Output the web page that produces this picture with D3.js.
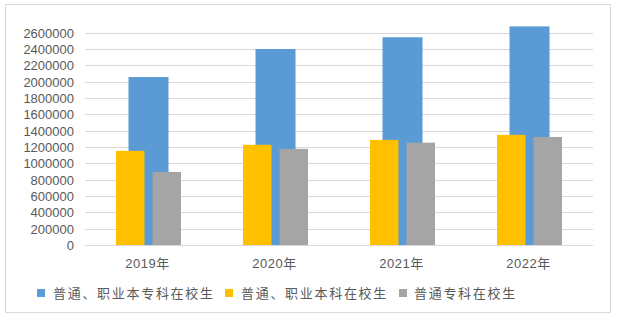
<!DOCTYPE html>
<html>
<head>
<meta charset="utf-8">
<script src="https://cdn.jsdelivr.net/npm/d3@7"></script>
<style>
  html, body { margin: 0; padding: 0; background: #fff; }
  svg { display: block; }
  text { font-family: "Liberation Sans", "Noto Sans CJK SC", sans-serif; fill: #595959; }
</style>
</head>
<body>
<svg id="chart" width="617" height="326"></svg>
<script>
// 在校生人数（人）
const years = ["2019年", "2020年", "2021年", "2022年"];
const totalStudents = [2055000, 2398000, 2542000, 2675000];     // 普通、职业本专科在校生
const undergradStudents = [1152000, 1226000, 1286000, 1348000]; // 普通、职业本科在校生
const juniorStudents = [894000, 1176000, 1252000, 1322000];     // 普通专科在校生
const yTicks = d3.range(0, 2600001, 200000);

const seriesNames = ["普通、职业本专科在校生", "普通、职业本科在校生", "普通专科在校生"];
const colors = ["#5B9BD5", "#FFC000", "#A5A5A5"];

const svg = d3.select("#chart");
const W = 617, H = 326;
const plot = { left: 85, right: 593, top: 32.5, bottom: 245 };

// chart frame
svg.append("rect")
  .attr("x", 5.5).attr("y", 4.5)
  .attr("width", 605).attr("height", 308)
  .attr("fill", "#fff").attr("stroke", "#D9D9D9").attr("stroke-width", 1);

const x = d3.scaleBand().domain(years).range([plot.left, plot.right]).paddingInner(0).paddingOuter(0);
const y = d3.scaleLinear().domain([0, 2600000]).range([plot.bottom, plot.top]);

// horizontal gridlines
svg.append("g")
  .selectAll("line")
  .data(yTicks)
  .join("line")
  .attr("x1", plot.left).attr("x2", plot.right)
  .attr("y1", d => Math.round(y(d)) + 0.5).attr("y2", d => Math.round(y(d)) + 0.5)
  .attr("stroke", "#D9D9D9").attr("stroke-width", 1);

// y axis labels
const yAxis = d3.axisLeft(y).tickValues(yTicks).tickFormat(d3.format("d")).tickSize(0).tickPadding(0);
const gy = svg.append("g").attr("transform", `translate(${plot.left - 11},0)`).call(yAxis);
gy.select(".domain").remove();
gy.selectAll("text")
  .attr("font-size", 13)
  .attr("font-family", "Liberation Sans, sans-serif")
  .attr("fill", "#595959")
  .attr("dy", "0.36em");

// back bar: total enrollment, wide and centered in each band
const backWidth = 40;
svg.append("g")
  .selectAll("rect")
  .data(years.map((yr, i) => ({ yr, v: totalStudents[i] })))
  .join("rect")
  .attr("x", d => x(d.yr) + x.bandwidth() / 2 - backWidth / 2)
  .attr("y", d => y(d.v))
  .attr("width", backWidth)
  .attr("height", d => y(0) - y(d.v))
  .attr("fill", colors[0]);

// front bars: undergraduate and junior college side by side
const groupWidth = 65;
const inner = d3.scaleBand().domain([1, 2]).range([0, groupWidth]).paddingInner(0.22).paddingOuter(0);
const front = [];
years.forEach((yr, i) => {
  front.push({ yr, k: 1, v: undergradStudents[i] });
  front.push({ yr, k: 2, v: juniorStudents[i] });
});
svg.append("g")
  .selectAll("rect")
  .data(front)
  .join("rect")
  .attr("x", d => x(d.yr) + x.bandwidth() / 2 - groupWidth / 2 + inner(d.k))
  .attr("y", d => y(d.v))
  .attr("width", inner.bandwidth())
  .attr("height", d => y(0) - y(d.v))
  .attr("fill", d => colors[d.k]);

// x axis labels
svg.append("g")
  .selectAll("text")
  .data(years)
  .join("text")
  .attr("x", d => x(d) + x.bandwidth() / 2 - 1)
  .attr("y", 268)
  .attr("text-anchor", "middle")
  .attr("font-size", 13)
  .attr("letter-spacing", "0.5px")
  .text(d => d);

// legend
const legendItems = [
  { name: seriesNames[0], color: colors[0], sx: 37, tx: 53 },
  { name: seriesNames[1], color: colors[1], sx: 225, tx: 241 },
  { name: seriesNames[2], color: colors[2], sx: 399, tx: 414 }
];
const lg = svg.append("g");
legendItems.forEach(it => {
  lg.append("rect")
    .attr("x", it.sx).attr("y", 289)
    .attr("width", 8).attr("height", 8)
    .attr("fill", it.color);
  lg.append("text")
    .attr("x", it.tx).attr("y", 298)
    .attr("font-size", 13)
    .attr("letter-spacing", "1.7px")
    .text(it.name);
});
</script>
</body>
</html>
